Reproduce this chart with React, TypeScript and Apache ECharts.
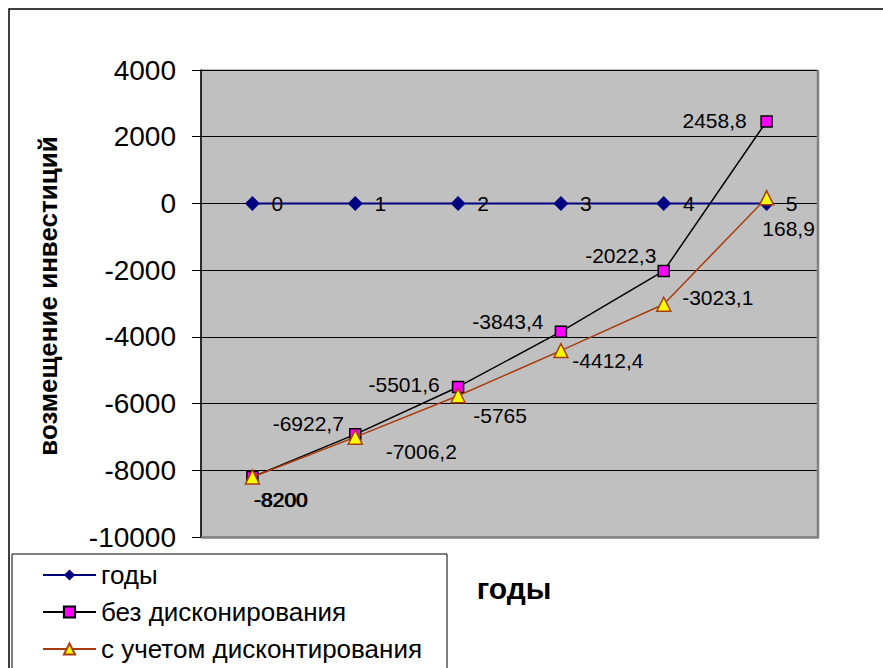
import React, { useEffect, useRef } from "react";
import * as echarts from "echarts";

const categories = ["0", "1", "2", "3", "4", "5"];
const yearsValues = [0, 0, 0, 0, 0, 0];
const noDiscount = [-8200, -6922.7, -5501.6, -3843.4, -2022.3, 2458.8];
const withDiscount = [-8200, -7006.2, -5765, -4412.4, -3023.1, 168.9];
const seriesNames = ["годы", "без дисконирования", "с учетом дисконтирования"];
const yTicks = { min: -10000, max: 4000, interval: 2000 };

// label placement (pixel offsets from point centre)
const noDiscountLabelOffsets = [[28, 23], [-47, -11], [-54, -2], [-53, -10], [-43, -15], [-52, -1]];
const withDiscountLabelOffsets = [[29, 23], [66, 14], [42, 20], [47, 10], [54, -7], [22, 31]];

const FONT = "'Liberation Sans', Arial, sans-serif";
const fmt = (v: number) => String(v).replace(".", ",");

export default function App() {
  const ref = useRef<HTMLDivElement>(null);
  useEffect(() => {
    if (!ref.current) return;
    const chart = echarts.init(ref.current, undefined, { renderer: "svg" });
    const labelBase = {
      show: true,
      position: "inside",
      align: "center",
      verticalAlign: "middle",
      fontSize: 21,
      fontFamily: FONT,
      color: "#000",
    };
    chart.setOption({
      animation: false,
      backgroundColor: "#fff",
      grid: {
        left: 201,
        top: 70,
        width: 617,
        height: 467,
        show: true,
        backgroundColor: "#C0C0C0",
        borderColor: "#808080",
        borderWidth: 1,
      },
      xAxis: {
        type: "category",
        data: categories,
        boundaryGap: true,
        axisLine: { show: true, onZero: true, lineStyle: { color: "#000", width: 1 } },
        axisTick: { show: false },
        axisLabel: { show: false },
        splitLine: { show: false },
      },
      yAxis: {
        type: "value",
        min: yTicks.min,
        max: yTicks.max,
        interval: yTicks.interval,
        axisLine: { show: true, lineStyle: { color: "#000", width: 1.5 } },
        axisTick: { show: true, length: 9, lineStyle: { color: "#000" } },
        axisLabel: {
          fontSize: 28,
          fontFamily: FONT,
          color: "#000",
          margin: 25,
          formatter: (v: number) => String(v),
        },
        splitLine: { show: true, lineStyle: { color: "#000", width: 1 } },
      },
      legend: {
        orient: "vertical",
        left: 42,
        top: 562,
        padding: 0,
        itemGap: 11,
        itemWidth: 53,
        itemHeight: 14,
        textStyle: { fontSize: 26, fontFamily: FONT, color: "#000", lineHeight: 26 },
        data: seriesNames,
      },
      series: [
        {
          name: seriesNames[0],
          type: "line",
          data: yearsValues,
          symbol: "diamond",
          symbolSize: 15,
          lineStyle: { color: "#000080", width: 2 },
          itemStyle: { color: "#000080" },
          label: {
            ...labelBase,
            offset: [25, 0],
            formatter: (p: any) => p.name,
          },
          z: 3,
        },
        {
          name: seriesNames[1],
          type: "line",
          data: noDiscount.map((v, i) => ({
            value: v,
            label: { offset: noDiscountLabelOffsets[i] },
          })),
          symbol: "rect",
          symbolSize: 11,
          lineStyle: { color: "#000", width: 1.5 },
          itemStyle: { color: "#FF00FF", borderColor: "#000", borderWidth: 1.5 },
          label: { ...labelBase, formatter: (p: any) => fmt(p.value) },
          z: 4,
        },
        {
          name: seriesNames[2],
          type: "line",
          data: withDiscount.map((v, i) => ({
            value: v,
            label: { offset: withDiscountLabelOffsets[i] },
          })),
          symbol: "triangle",
          symbolSize: 14,
          lineStyle: { color: "#A83C0C", width: 1.5 },
          itemStyle: { color: "#FFFF00", borderColor: "#A83C0C", borderWidth: 1.5 },
          label: { ...labelBase, formatter: (p: any) => fmt(p.value) },
          z: 5,
        },
      ],
      graphic: [
        {
          type: "rect",
          shape: { x: 9, y: 9, width: 900, height: 700 },
          style: { fill: "none", stroke: "#000", lineWidth: 1.5 },
          z: 100,
        },
        {
          type: "rect",
          shape: { x: 12, y: 554, width: 435, height: 200 },
          style: { fill: "none", stroke: "#000", lineWidth: 1 },
          z: 100,
        },
        {
          type: "line",
          shape: { x1: 818, y1: 70, x2: 818, y2: 538 },
          style: { stroke: "#808080", lineWidth: 2.5 },
          z: 1,
        },
        {
          type: "line",
          shape: { x1: 201, y1: 537.5, x2: 819, y2: 537.5 },
          style: { stroke: "#808080", lineWidth: 2.5 },
          z: 1,
        },
        {
          type: "text",
          x: 48,
          y: 296,
          rotation: Math.PI / 2,
          style: {
            text: "возмещение инвестиций",
            fontSize: 26,
            fontWeight: "bold",
            fontFamily: FONT,
            fill: "#000",
            align: "center",
            verticalAlign: "middle",
          },
        },
        {
          type: "text",
          x: 514,
          y: 588,
          style: {
            text: "годы",
            fontSize: 30,
            fontWeight: "bold",
            fontFamily: FONT,
            fill: "#000",
            align: "center",
            verticalAlign: "middle",
          },
        },
      ],
    });
    return () => chart.dispose();
  }, []);
  return (
    <div
      ref={ref}
      style={{ position: "absolute", left: 0, top: 0, width: 883, height: 668 }}
    />
  );
}
